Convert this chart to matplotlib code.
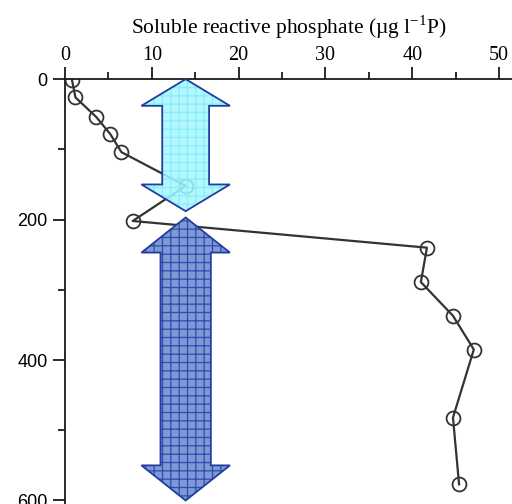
import matplotlib.pyplot as plt
from matplotlib.patches import Polygon
from matplotlib.ticker import MultipleLocator

# phosphate profile
srp = [0.8, 1.2, 3.6, 5.2, 6.5, 13.9, 7.8, 41.7, 41.0, 44.7, 47.1, 44.7, 45.4]
depth = [1, 26, 54, 78, 104, 152, 202, 240, 289, 337, 385, 482, 577]
xticks = [0, 10, 20, 30, 40, 50]
yticks = [0, 200, 400, 600]

plt.rcParams['hatch.linewidth'] = 0.9

fig = plt.figure(figsize=(5.12, 5.04), dpi=100)
ax = fig.add_axes([0.127, 0.0, 0.873, 0.843])

ax.plot(srp, depth, c='#333333', lw=1.6, marker='o', ms=10, mfc='none',
        mec='#333333', mew=1.3, zorder=2)


def double_arrow(xc, y0, y1, head, hw, sw):
    # vertical double headed arrow as a polygon
    return [(xc, y0), (xc + hw, y0 + head), (xc + sw, y0 + head),
            (xc + sw, y1 - head), (xc + hw, y1 - head), (xc, y1),
            (xc - hw, y1 - head), (xc - sw, y1 - head), (xc - sw, y0 + head),
            (xc - hw, y0 + head)]


def draw_arrow(pts, face, grid, edge, alpha, z):
    ax.add_patch(Polygon(pts, closed=True, fc=face, ec='none', alpha=alpha, zorder=z))
    ax.add_patch(Polygon(pts, closed=True, fc='none', ec=grid, lw=0, hatch='++',
                         alpha=alpha, zorder=z))
    ax.add_patch(Polygon(pts, closed=True, fc='none', ec=edge, lw=1.3, zorder=z))


draw_arrow(double_arrow(13.9, 0, 188, 38, 5.1, 2.7), '#a8f6ff', '#7eecfc', '#1f3fa0', 0.85, 3)
draw_arrow(double_arrow(13.9, 197, 600, 50, 5.1, 2.9), '#8098d4', '#2b4fb0', '#1f3fa0', 1.0, 3)

ax.set_xlim(0, 51.5)
ax.set_ylim(605, 0)
ax.xaxis.set_ticks_position('top')
ax.xaxis.set_label_position('top')
ax.set_xticks(xticks)
ax.xaxis.set_minor_locator(MultipleLocator(5))
ax.set_yticks(yticks)
ax.yaxis.set_minor_locator(MultipleLocator(100))
ax.spines['right'].set_visible(False)
ax.spines['bottom'].set_visible(False)
for s in ['top', 'left']:
    ax.spines[s].set_linewidth(1.3)
    ax.spines[s].set_color('#1a1a1a')
ax.tick_params(which='major', length=9, width=1.3, color='#1a1a1a')
ax.tick_params(which='minor', length=5, width=1.3, color='#1a1a1a')
ax.tick_params(axis='x', pad=1)

for t in ax.get_xticklabels():
    t.set_fontfamily('Liberation Serif')
    t.set_fontsize(14.5)
for t in ax.get_yticklabels():
    t.set_fontfamily('Liberation Sans')
    t.set_fontsize(13)

ax.set_xlabel('Soluble reactive phosphate (µg l$^{\\mathregular{-1}}$P)',
              fontfamily='Liberation Serif', fontsize=15.5, labelpad=9)

fig.savefig('out.png', dpi=100)
